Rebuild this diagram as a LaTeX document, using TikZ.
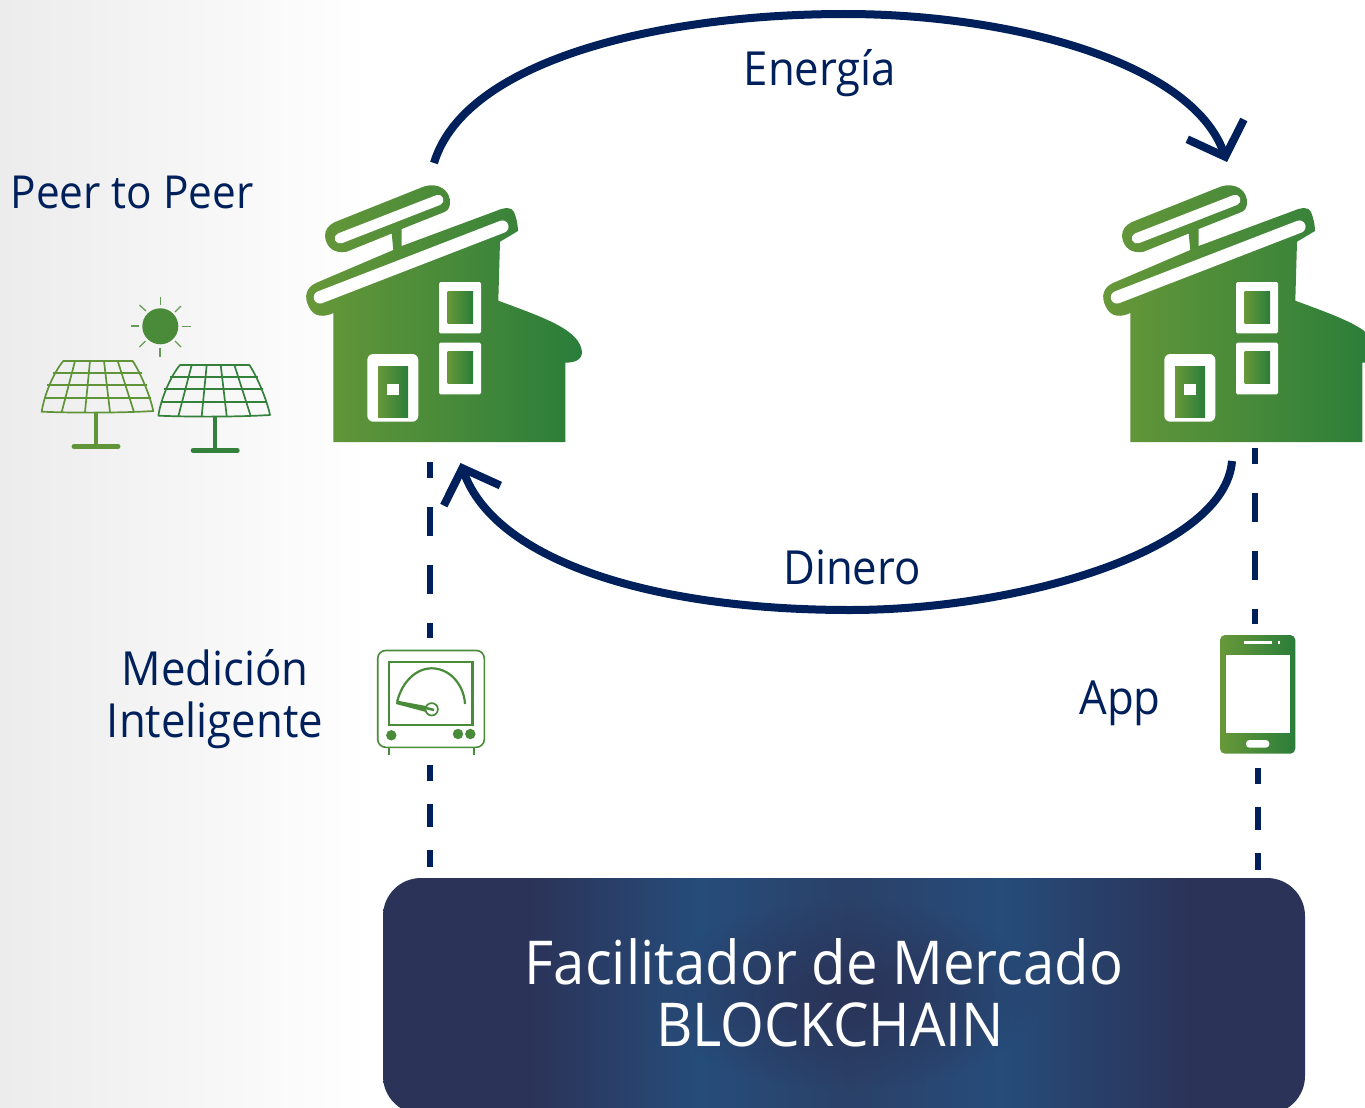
\documentclass[tikz,border=0pt]{standalone}
\usepackage{fontspec}
\setmainfont[FakeStretch=0.93]{Open Sans}
\usetikzlibrary{arrows.meta,fadings}
\definecolor{navy}{HTML}{00205B}
\definecolor{gleft}{HTML}{689839}
\definecolor{gright}{HTML}{2A7D3A}
\definecolor{gmid}{HTML}{4A8B3A}
\definecolor{boxdark}{HTML}{2B3358}
\definecolor{boxlight}{HTML}{264C7A}
\definecolor{boxmid}{HTML}{2A4168}
\pgfdeclarehorizontalshading{boxshade}{100bp}{color(0bp)=(boxdark); color(33bp)=(boxdark); color(42.2bp)=(boxlight); color(50.3bp)=(boxmid); color(58.5bp)=(boxlight); color(68.8bp)=(boxdark); color(100bp)=(boxdark)}
\tikzfading[name=softcentre, inner color=transparent!0, outer color=transparent!100]
\tikzset{
  greengrad/.style={left color=gleft,right color=gright,shading angle=90,draw=none},
  flow/.style={navy,line width=8pt,-{Straight Barb[length=29pt,width=60pt]}},
  dashA/.style={navy,line width=5.5pt,dash pattern=on 29.5pt off 28.5pt,dash phase=13.5pt},
  dashB/.style={navy,line width=5.5pt,dash pattern=on 23pt off 23pt,dash phase=7pt},
  label/.style={text=navy,inner sep=0pt,align=center,font=\fontsize{47}{52}\selectfont},
  boxtext/.style={text=white,inner sep=0pt,font=\fontsize{60.5}{64}\selectfont},
  market/.style={shading=boxshade,rounded corners=38pt,minimum width=922pt,minimum height=236pt,inner sep=0pt,draw=none},
}
\newcommand{\myhouse}[1]{%
\begin{scope}[xshift=#1]
\shade[greengrad] (333.3,442) -- (333.3,313)
 .. controls (325,317) and (314,318) .. (309,307)
 .. controls (303,296) and (307,287) .. (316,283)
 -- (393.3,250) -- (391.7,233.5) -- (346.7,251.7)
 .. controls (335,254) and (326,248) .. (325,236)
 .. controls (325,229) and (329,225) .. (335,222)
 -- (424,186.5)
 .. controls (438,182) and (451,190) .. (450,204)
 .. controls (449,210) and (447,211) .. (442,213)
 -- (401.7,229) -- (401.7,246) -- (496,211)
 .. controls (505,207) and (512,207) .. (514,212)
 .. controls (516,217) and (518,224) .. (518,231)
 -- (500,241.7) -- (498.3,300.7)
 .. controls (545,318) and (580,330) .. (582,352)
 .. controls (582,360) and (574,363) .. (565.3,362.5)
 -- (565.3,442) -- cycle;
\draw[white,line width=12.5pt,line cap=round] (320,297.3) -- (502.3,226.7);
\draw[white,line width=10.5pt,line cap=round] (340,238.3) -- (438.3,200);
\fill[white,rounded corners=1.5pt] (439,282) rectangle (481,333.3);
\fill[white,rounded corners=1.5pt] (439,342.7) rectangle (481,394.3);
\fill[white,rounded corners=6pt] (367.3,354) rectangle (418.3,421.7);
\shade[greengrad] (447.7,291) rectangle (473,323);
\shade[greengrad] (447.7,351.7) rectangle (473,383.7);
\shade[greengrad] (378,366) rectangle (408,417.7);
\fill[white] (387,384) rectangle (398.7,395);
\end{scope}}
\newcommand{\mypanel}[4]{%
\begin{scope}[xshift=#1,yshift=#2,draw=#3,line width=1.7pt]
\draw[line join=round] (63.3,361) -- (132.7,361) .. controls (140,372) and (150,395) .. (153.3,411)
  .. controls (120,413) and (75,413) .. (41.7,411.7) .. controls (44,395) and (54,372) .. (63.3,361) -- cycle;
\draw (53.3,372.7) -- (141.7,372.7) (47.3,385) -- (146.7,385) (44,397.7) -- (150.7,397.7);
\draw (75,361) -- (61.7,412) (90,361) -- (85,412) (104,361) -- (110,412) (117.7,361) -- (134,412);
\draw[line width=4.5pt,xshift=#4] (96,413) -- (96,446);
\draw[line width=5pt,line cap=round,xshift=#4] (74,446.5) -- (118,446.5);
\end{scope}}
\begin{document}
\begin{tikzpicture}[x=1pt,y=-1pt]
\useasboundingbox (0,0) rectangle (1365,1108);
\clip (0,0) rectangle (1365,1108);
\fill[white] (0,0) rectangle (1365,1108);
\shade[left color=black!7.5,right color=white,shading angle=90,draw=none] (0,0) rectangle (370,1108);

% houses
\myhouse{0pt}
\myhouse{797pt}

% solar panels and sun
\mypanel{0pt}{0pt}{gleft!85!gright}{0pt}
\mypanel{116.7pt}{-4pt}{gright!85!gleft}{2.5pt}
\fill[gmid] (160.3,326.3) circle[radius=18];
\begin{scope}[gmid!85,line width=1.3pt]
\draw (160.5,296.5) -- (160.5,305);
\draw (160,348) -- (160,356.5);
\draw (130.5,326) -- (139,326);
\draw (182,326.5) -- (190.5,326.5);
\draw (139.5,305) -- (146,311);
\draw (181,306) -- (175,312);
\draw (139.5,347) -- (145.5,341);
\draw (181,347) -- (175,341);
\end{scope}

% meter
\begin{scope}[gmid]
\draw[line width=1.6pt,rounded corners=8pt] (377.7,650.5) rectangle (484.3,747.3);
\draw[line width=2.4pt] (389,661.7) rectangle (472.3,725);
\draw[line width=1.5pt] (389,747) -- (389,755) (474,747) -- (474,755);
\draw[line width=2.2pt] (397.2,701.5) .. controls (402,682) and (416,668.3) .. (431.7,668.3) .. controls (450,668.3) and (464,685) .. (465,704);
\fill (396.5,700.5) -- (426,706) -- (426,712) -- (396,704) -- cycle;
\fill[white] (431.7,709.3) circle[radius=6.6];
\draw[line width=1.7pt] (431.7,709.3) circle[radius=6.2];
\draw[line width=2.5pt] (424,707.5) -- (434,710);
\fill (391.3,735.3) circle[radius=5.2];
\fill (458,734) circle[radius=5.2];
\fill (470.3,734) circle[radius=5.2];
\end{scope}

% phone
\shade[greengrad,rounded corners=5pt] (1220,635) rectangle (1295.3,753.7);
\fill[white] (1225.7,655) rectangle (1290,733.3);
\fill[white] (1244,640.7) rectangle (1271.7,644.3);
\fill[white] (1278,640.7) rectangle (1280,644.3);
\fill[white,rounded corners=3.5pt] (1246,740) rectangle (1269.3,747.7);

% market box
\node[market] (mk) at (844,996) {};
\fill[boxdark,path fading=softcentre] (850,995) ellipse[x radius=190,y radius=95];
\node[boxtext] (mk1) at (824,962) {Facilitador de Mercado};
\node[boxtext] (mk2) at (830,1025) {BLOCKCHAIN};

% anchors
\coordinate (hAtop) at (434,163);
\coordinate (hBtop) at (1227,162);
\coordinate (hAbot) at (460.5,463);
\coordinate (hBbot) at (1232,461);
\coordinate (eTop) at (845,14);
\coordinate (eBot) at (850,610);
\coordinate (dA1) at (430,462);
\coordinate (dA2) at (430,638);
\coordinate (dA3) at (430,765);
\coordinate (dA4) at (430,867);
\coordinate (dB1) at (1255,448);
\coordinate (dB2) at (1255,624);
\coordinate (dB3) at (1258,768);
\coordinate (dB4) at (1258,870);

% flows
\draw[flow] (hAtop) .. controls (465,60) and (660,14) .. (eTop) .. controls (1010,14) and (1192,62) .. (hBtop);
\draw[flow] (hBbot) .. controls (1225,550) and (1020,610) .. (eBot) .. controls (650,610) and (495,560) .. (hAbot);

% dashes
\draw[dashA] (dA1) -- (dA2);
\draw[dashB] (dA3) -- (dA4);
\draw[dashA] (dB1) -- (dB2);
\draw[dashB] (dB3) -- (dB4);

% labels
\node[label] (l1) at (820,73) {Energía};
\node[label] (l2) at (852,567) {Dinero};
\node[label,font=\fontsize{45.5}{52}\selectfont] (l3) at (132,192) {Peer to Peer};
\node[label] (l4) at (215,699) {Medición\\Inteligente};
\node[label] (l5) at (1120,703) {App};
\end{tikzpicture}
\end{document}
